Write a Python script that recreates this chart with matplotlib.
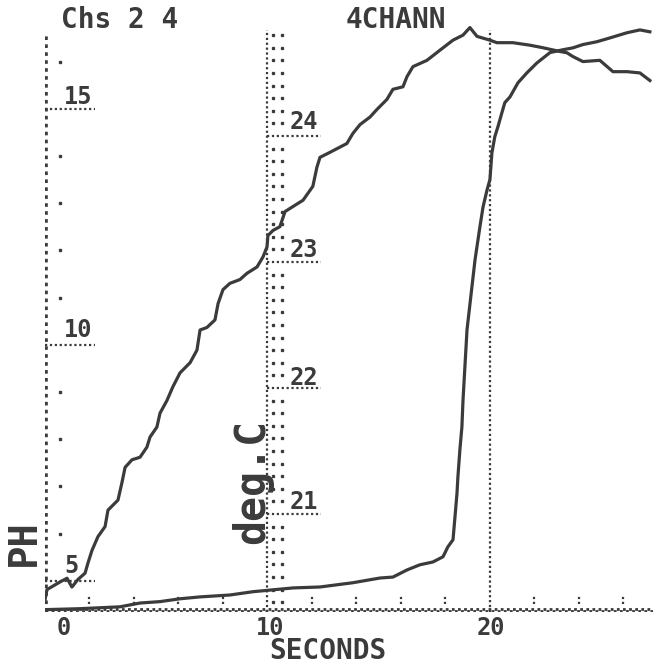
"""
Calculator screen capture: pH and temperature during a titration, 4 channel mode.
"""

import matplotlib
matplotlib.use("Agg")
import matplotlib.pyplot as plt

# temperature channel (deg C)
temp_t = [0.00, 0.09, 0.67, 0.99, 1.21, 1.48, 1.80, 1.93, 2.11, 2.38, 2.70, 2.83,
          3.28, 3.46, 3.60, 3.91, 4.27, 4.58, 4.72, 5.03, 5.17, 5.48, 5.75, 6.07,
          6.52, 6.83, 6.97, 7.28, 7.64, 7.78, 8.00, 8.31, 8.76, 9.08, 9.53, 9.80,
          9.98, 10.02, 10.25, 10.56, 10.79, 11.15, 11.60, 12.04, 12.22, 12.36,
          12.81, 13.57, 13.84, 14.16, 14.61, 14.92, 15.37, 15.64, 16.09, 16.27,
          16.54, 17.17, 17.75, 18.34, 18.79, 19.10, 19.42, 20.00, 20.31, 21.03,
          21.80, 22.38, 23.15, 23.46, 23.73, 24.18, 24.94, 25.53, 26.16, 26.74, 27.19]
temp_c = [20.32, 20.40, 20.46, 20.49, 20.42, 20.48, 20.53, 20.61, 20.71, 20.82, 20.90, 21.03,
          21.11, 21.25, 21.37, 21.43, 21.45, 21.53, 21.61, 21.69, 21.80, 21.90, 22.01, 22.12,
          22.20, 22.30, 22.46, 22.48, 22.54, 22.67, 22.78, 22.83, 22.86, 22.91, 22.96, 23.04,
          23.12, 23.21, 23.25, 23.28, 23.40, 23.44, 23.49, 23.60, 23.75, 23.83,
          23.87, 23.94, 24.02, 24.09, 24.15, 24.21, 24.29, 24.37, 24.39, 24.47,
          24.55, 24.60, 24.68, 24.76, 24.80, 24.86, 24.79, 24.76, 24.74, 24.74,
          24.72, 24.70, 24.67, 24.66, 24.63, 24.59, 24.60, 24.51, 24.51, 24.50, 24.44]

# pH channel
ph_t = [0.00, 1.57, 3.37, 4.27, 5.17, 6.07, 6.97, 8.31, 9.35, 10.25, 11.15, 12.36,
        13.84, 15.06, 15.64, 16.27, 16.85, 17.44, 17.89, 18.11, 18.34, 18.43, 18.52,
        18.56, 18.65, 18.74, 18.79, 18.97, 19.33, 19.55, 19.69, 19.87, 20.00, 20.09,
        20.22, 20.36, 20.54, 20.67, 20.90, 21.26, 21.66, 22.11, 22.70, 23.28, 23.73,
        24.18, 24.81, 25.39, 26.16, 26.74, 27.19]
ph_val = [4.39, 4.41, 4.45, 4.53, 4.56, 4.62, 4.66, 4.70, 4.77, 4.81, 4.85, 4.87,
          4.96, 5.06, 5.08, 5.23, 5.34, 5.40, 5.51, 5.72, 5.87, 6.36, 6.86,
          7.20, 7.78, 8.26, 8.83, 10.32, 11.80, 12.50, 12.92, 13.28, 13.50, 14.07,
          14.41, 14.62, 14.92, 15.13, 15.25, 15.55, 15.76, 15.97, 16.19, 16.25, 16.29,
          16.36, 16.42, 16.50, 16.61, 16.67, 16.63]

x_ticks = [0, 10, 20]
ph_ticks = [5, 10, 15]
temp_ticks = [21, 22, 23, 24]

W, H = 653, 667
INK = "#3b3b3b"
FONT = "DejaVu Sans Mono"


def px_text(x, y, s, **kw):
    # place text by screen pixel (origin top left)
    kw.setdefault("color", INK)
    kw.setdefault("family", FONT)
    kw.setdefault("weight", "bold")
    kw.setdefault("ha", "center")
    kw.setdefault("va", "center")
    fig.text(x / W, 1 - y / H, s, **kw)


fig = plt.figure(figsize=(W / 100, H / 100), dpi=100)
ax = fig.add_axes([45 / W, 55 / H, 608 / W, 592 / H])
ax.set_xlim(0, 27.33)
ax.set_ylim(4.34, 16.88)
ax.axis("off")
ax2 = ax.twinx()
ax2.set_ylim(20.222, 24.92)
ax2.axis("off")

dots = (0, (1, 1.2))

# axes drawn as dotted lines
ax.vlines(0.05, 4.34, 16.55, color=INK, lw=2.6, ls=dots)
ax.vlines([10, 20], 4.34, 16.67, color=INK, lw=1.6, ls=dots)
ax.hlines(4.36, 0, 27.33, color=INK, lw=2.0, ls=dots)
ax.hlines(4.40, 0, 27.33, color=INK, lw=2.0, ls=(1.1, (1, 1.2)))

# x minor ticks every 2 s
minor_x = [t for t in range(2, 28, 2) if t not in (10, 20)]
ax.vlines(minor_x, 4.50, 4.70, color=INK, lw=1.6, ls=dots)

# pH ticks: dots every unit, dotted underline at labelled values
ph_minor = [v for v in range(5, 17) if v not in ph_ticks]
ax.plot([0.67] * len(ph_minor), ph_minor, ls="none", marker="s", ms=1.8, color=INK)
ax.hlines(ph_ticks, 0, 2.25, color=INK, lw=1.6, ls=dots)

# temperature ticks every 0.1 deg, two dot columns
temp_minor = [20.3 + 0.1 * k for k in range(46)]
temp_minor = [v for v in temp_minor if all(abs(v - m) > 0.05 for m in temp_ticks)]
ax2.plot([10.25] * len(temp_minor), temp_minor, ls="none", marker="s", ms=1.4, color=INK)
ax2.plot([10.65] * len(temp_minor), temp_minor, ls="none", marker="s", ms=1.4, color=INK)
ax2.hlines(temp_ticks, 10, 12.4, color=INK, lw=1.6, ls=dots)

# the two channels
ax2.plot(temp_t, temp_c, color=INK, lw=2.3)
ax.plot(ph_t, ph_val, color=INK, lw=2.3)

# screen text
px_text(120, 20, "Chs 2 4", fontsize=20)
px_text(396, 20, "4CHANN", fontsize=20)
for lab, y in zip(["15", "10", "5"], [97, 330, 566]):
    px_text(64, y, lab, fontsize=17, ha="left")
for lab, y in zip(["24", "23", "22", "21"], [122, 250, 378, 502]):
    px_text(290, y, lab, fontsize=17, ha="left")
for lab, x in zip(["0", "10", "20"], [64, 270, 491]):
    px_text(x, 628, lab, fontsize=17)
px_text(328, 651, "SECONDS", fontsize=20)
px_text(24, 543, "PH", fontsize=28, rotation=90)
px_text(252, 482, "deg.C", fontsize=30, rotation=90)

plt.savefig("out.png", dpi=100)
